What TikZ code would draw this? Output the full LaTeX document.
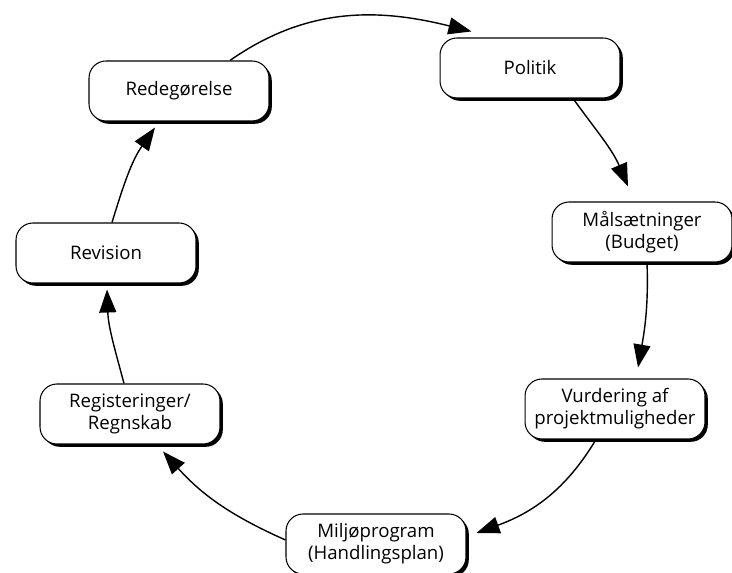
\documentclass[tikz,border=0pt]{standalone}
\usepackage{fontspec}
\setmainfont{Open Sans}
\usepackage{tikz}
\usetikzlibrary{shapes,arrows.meta,shadows}

\begin{document}
\begin{tikzpicture}[x=0.02cm,y=0.02cm]
			\tikzset{stage/.style={draw,fill=white,rounded corners=0.34cm,line width=0.6pt,minimum width=3.6cm,minimum height=1.2cm,align=center,font=\fontsize{10.6}{12.4}\selectfont,drop shadow={shadow xshift=1.6pt,shadow yshift=-1.6pt,fill=black,opacity=1}}}
			\tikzset{flow/.style={line width=0.8pt,-{Triangle[length=0.46cm,width=0.34cm]}}}
			\useasboundingbox (0,0) rectangle (732,573);
			\node[stage] (redeg) at (179,482) {Redegørelse};
			\node[stage] (politik) at (530,505) {Politik};
			\node[stage] (maal) at (642,341) {Målsætninger\\(Budget)};
			\node[stage] (vurd) at (615,164) {Vurdering af\\projektmuligheder};
			\node[stage] (miljo) at (376,29) {Miljøprogram\\(Handlingsplan)};
			\node[stage] (regist) at (130,159) {Registeringer/\\Regnskab};
			\node[stage] (revision) at (106,320) {Revision};
			\draw[flow] ([shift={(51,0)}]redeg.north) to[out=35,in=166] ([shift={(32,6)}]politik.north west);
			\draw[flow] ([shift={(43,0)}]politik.south) to[out=-54,in=113] ([shift={(-14,15)}]maal.north);
			\draw[flow] ([shift={(5,0)}]maal.south) to[out=-88,in=80] ([shift={(23,11)}]vurd.north);
			\draw[flow] ([shift={(-19,0)}]vurd.south) to[out=-121,in=20] ([shift={(10,11)}]miljo.east);
			\draw[flow] ([shift={(0,4)}]miljo.west) to[out=156,in=-48] ([shift={(33,-7)}]regist.south);
			\draw[flow] ([shift={(-6,0)}]regist.north) to[out=105,in=-88] ([shift={(1,-6)}]revision.south);
			\draw[flow] ([shift={(6,0)}]revision.north) to[out=73,in=-125] ([shift={(-24,-6)}]redeg.south);
		\end{tikzpicture}
\end{document}
